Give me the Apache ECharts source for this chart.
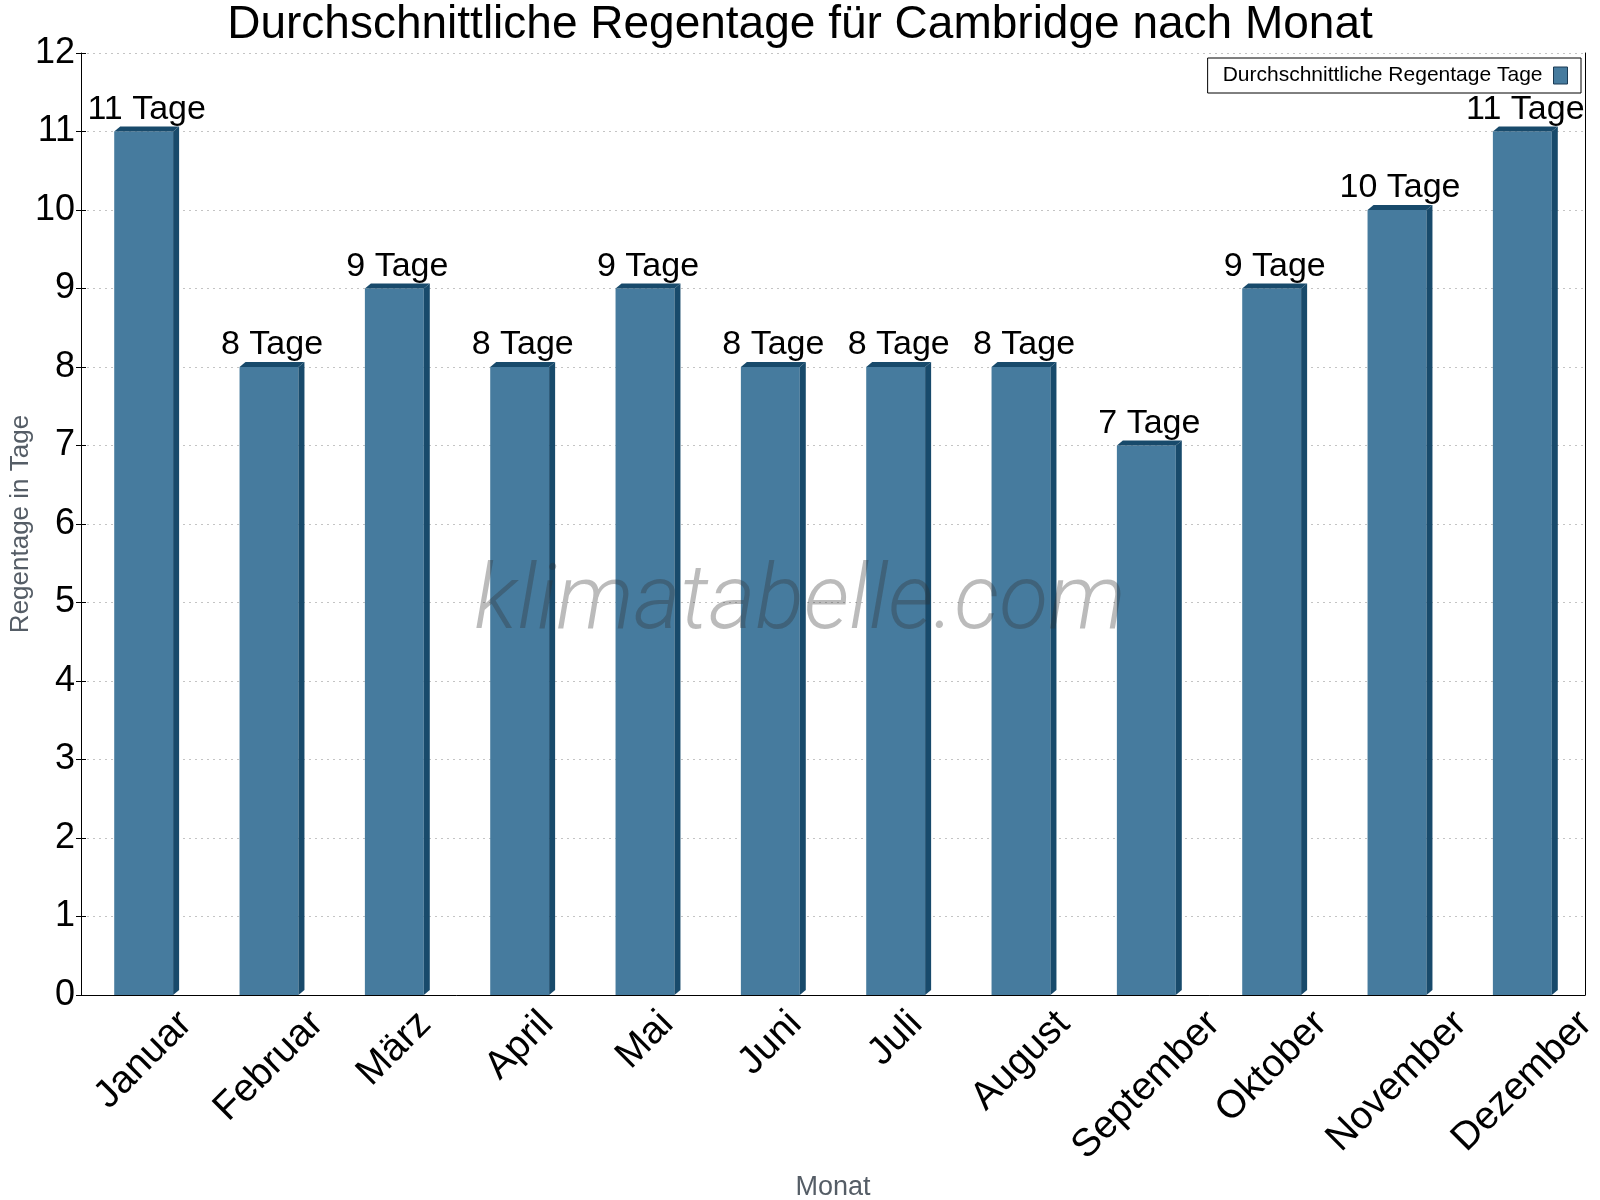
<!DOCTYPE html>
<html>
<head>
<meta charset="utf-8">
<script src="https://cdn.jsdelivr.net/npm/echarts@6/dist/echarts.min.js"></script>
<style>
  html, body { margin: 0; padding: 0; background: #fff; }
  #chart { width: 1600px; height: 1200px; }
</style>
</head>
<body>
<div id="chart"></div>
<script>
const months = ['Januar', 'Februar', 'März', 'April', 'Mai', 'Juni', 'Juli', 'August', 'September', 'Oktober', 'November', 'Dezember'];
const rainDays = [11, 8, 9, 8, 9, 8, 8, 8, 7, 9, 10, 11];
const seriesName = 'Durchschnittliche Regentage Tage';
const unit = 'Tage';

const FRONT = '#467b9e';
const SIDE = '#184a6b';
const FONT = '"Liberation Sans", Arial, sans-serif';
const LABEL_SIZE = 39;

// rotated month labels are centred on the category, top edge aligned
const ctx = document.createElement('canvas').getContext('2d');
ctx.font = LABEL_SIZE + 'px ' + FONT;
const rich = {};
months.forEach((m, i) => {
    const w = ctx.measureText(m).width;
    rich['m' + i] = {
        fontSize: LABEL_SIZE, fontFamily: FONT, color: '#000',
        padding: [w / 2, w / 2, 0, 0]
    };
});

const chart = echarts.init(document.getElementById('chart'));

function renderBar(params, api) {
    const v = api.value(1);
    const top = api.coord([api.value(0), v]);
    const base = api.coord([api.value(0), 0]);
    const bw = api.size([1, 0])[0] * 0.47;
    const x0 = top[0] - bw / 2, x1 = top[0] + bw / 2;
    const yt = top[1], yb = base[1];
    const dx = 6, dy = 5;
    return {
        type: 'group',
        children: [
            { type: 'rect', shape: { x: x0, y: yt, width: bw, height: yb - yt }, style: { fill: FRONT } },
            { type: 'polygon', shape: { points: [[x1, yt], [x1 + dx, yt - dy], [x1 + dx, yb - dy], [x1, yb]] }, style: { fill: SIDE } },
            { type: 'polygon', shape: { points: [[x0, yt], [x0 + dx, yt - dy], [x1 + dx, yt - dy], [x1, yt]] }, style: { fill: SIDE } },
            {
                type: 'text',
                style: {
                    text: v + ' ' + unit, x: top[0] + dx / 2, y: yt - dy,
                    align: 'center', verticalAlign: 'bottom',
                    fontSize: 34, fontFamily: FONT, fill: '#000'
                }
            }
        ]
    };
}

const yBase = { type: 'value', min: 0, max: 12, interval: 1 };

chart.setOption({
    animation: false,
    backgroundColor: '#fff',
    title: {
        text: 'Durchschnittliche Regentage für Cambridge nach Monat',
        left: 'center', top: -3,
        textStyle: { fontSize: 46, fontWeight: 'normal', color: '#000', fontFamily: FONT }
    },
    legend: {
        data: [{ name: seriesName, icon: 'rect', itemStyle: { color: FRONT, borderColor: '#1b3b55', borderWidth: 1 } }],
        right: 19, top: 58,
        align: 'right',
        itemWidth: 14, itemHeight: 17,
        padding: [7, 13, 7, 15],
        borderColor: '#000', borderWidth: 1,
        textStyle: { fontSize: 21, color: '#000', fontFamily: FONT, padding: [0, 6, 0, 0] }
    },
    grid: { left: 81, right: 15, top: 53, bottom: 205, containLabel: false, outerBoundsMode: 'none' },
    xAxis: [{
        type: 'category', data: months,
        name: 'Monat', nameLocation: 'middle', nameGap: 176,
        nameTextStyle: { fontSize: 27, color: '#555d66', fontFamily: FONT },
        axisLine: { lineStyle: { color: '#000', width: 1 } },
        axisTick: { length: 5, lineStyle: { color: '#000' } },
        axisLabel: {
            interval: 0, rotate: 45, margin: 23,
            align: 'center', verticalAlign: 'middle',
            formatter: (v, i) => '{m' + i + '|' + v + '}',
            rich: rich
        },
        splitLine: { show: false }
    }, {
        type: 'category', data: months, position: 'bottom',
        axisLine: { show: false },
        axisTick: { inside: true, length: 5, lineStyle: { color: '#000' } },
        axisLabel: { show: false },
        splitLine: { show: false }
    }],
    yAxis: [Object.assign({}, yBase, {
        position: 'left',
        name: 'Regentage in Tage', nameLocation: 'middle', nameGap: 47,
        nameMoveOverlap: false,
        nameTextStyle: { fontSize: 26, color: '#555d66', fontFamily: FONT },
        axisLine: { show: true, lineStyle: { color: '#000' } },
        axisTick: { show: true, length: 5, lineStyle: { color: '#000' } },
        axisLabel: { fontSize: 36, color: '#000', fontFamily: FONT, margin: 6 },
        splitLine: { show: true, lineStyle: { color: '#c4c4c4', type: [2, 4] } }
    }), Object.assign({}, yBase, {
        position: 'left',
        axisLine: { show: false },
        axisTick: { show: true, inside: true, length: 5, lineStyle: { color: '#000' } },
        axisLabel: { show: false },
        splitLine: { show: false }
    }), Object.assign({}, yBase, {
        position: 'right',
        axisLine: { show: true, lineStyle: { color: '#000' } },
        axisTick: { show: false },
        axisLabel: { show: false },
        splitLine: { show: false }
    })],
    series: [{
        name: seriesName,
        type: 'custom',
        xAxisIndex: 0, yAxisIndex: 0,
        itemStyle: { color: FRONT },
        renderItem: renderBar,
        data: months.map((m, i) => [i, rainDays[i]])
    }],
    graphic: [{
        type: 'text', z: 100,
        left: 'center', top: 560,
        style: {
            text: 'klimatabelle.com',
            fontSize: 90, fontFamily: 'Roboto', fontWeight: 300, fontStyle: 'italic',
            fill: 'rgba(50,50,50,0.33)'
        }
    }]
});
</script>
</body>
</html>
